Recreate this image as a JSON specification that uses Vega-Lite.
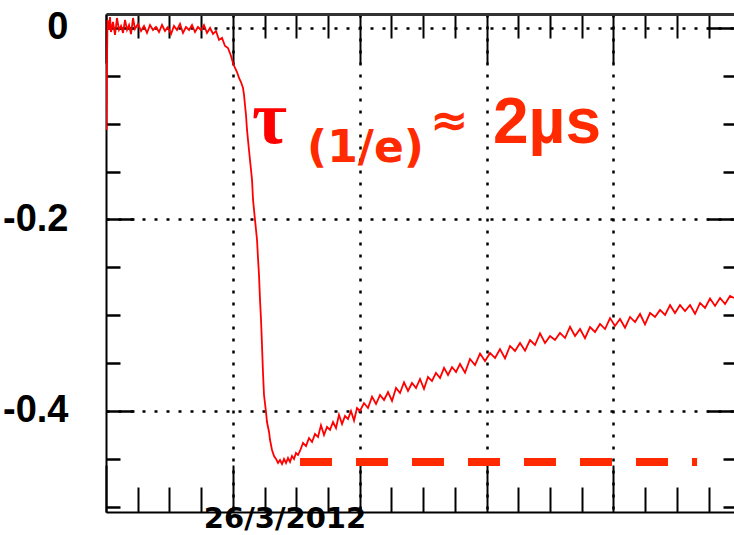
{
  "$schema": "https://vega.github.io/schema/vega-lite/v6.json",
  "width": 628,
  "height": 498,
  "autosize": {"type": "none"},
  "padding": {"left": 106, "top": 14, "right": 0, "bottom": 23},
  "background": "white",
  "config": {
    "view": {"stroke": null},
    "axis": {"domainColor": "#000", "tickColor": "#000", "labelColor": "#000", "title": null}
  },
  "resolve": {"axis": {"x": "independent", "y": "independent"}},
  "layer": [
    {
      "data": {"values": [
        {"t":0.008,"v":-0.1065},{"t":0.016,"v":-0.0334},{"t":0.024,"v":0.0084},{"t":0.047,"v":-0.0021},{"t":0.063,"v":0.0115},{"t":0.079,"v":-0.0042},{"t":0.110,"v":0.0063},{"t":0.142,"v":-0.0073},{"t":0.173,"v":0.0104},{"t":0.205,"v":-0.0021},{"t":0.237,"v":0.0021},{"t":0.268,"v":-0.0052},{"t":0.300,"v":0.0084},{"t":0.331,"v":-0.0021},{"t":0.363,"v":0.0031},{"t":0.394,"v":-0.0063},{"t":0.426,"v":0.0104},{"t":0.457,"v":-0.0010},{"t":0.504,"v":0.0042},{"t":0.552,"v":-0.0031},{"t":0.599,"v":0.0021},{"t":0.646,"v":-0.0052},{"t":0.694,"v":0.0031},{"t":0.741,"v":-0.0021},{"t":0.788,"v":0.0010},{"t":0.836,"v":-0.0042},{"t":0.883,"v":0.0031},{"t":0.930,"v":-0.0031},{"t":0.977,"v":0.0010},{"t":1.025,"v":-0.0063},{"t":1.072,"v":0.0021},{"t":1.119,"v":-0.0021},{"t":1.167,"v":0.0042},{"t":1.214,"v":-0.0052},{"t":1.261,"v":0.0010},{"t":1.309,"v":-0.0021},{"t":1.356,"v":0.0031},{"t":1.403,"v":-0.0042},{"t":1.450,"v":0.0010},{"t":1.498,"v":-0.0021},{"t":1.545,"v":0.0031},{"t":1.592,"v":-0.0052},{"t":1.640,"v":0.0},{"t":1.687,"v":-0.0063},{"t":1.734,"v":-0.0031},{"t":1.782,"v":-0.0125},{"t":1.829,"v":-0.0104},{"t":1.876,"v":-0.0188},{"t":1.923,"v":-0.0209},{"t":1.971,"v":-0.0292},{"t":2.002,"v":-0.0366},{"t":2.034,"v":-0.0418},{"t":2.065,"v":-0.0460},{"t":2.097,"v":-0.0522},{"t":2.128,"v":-0.0564},{"t":2.160,"v":-0.0627},{"t":2.176,"v":-0.0700},{"t":2.191,"v":-0.0804},{"t":2.207,"v":-0.0909},{"t":2.223,"v":-0.1065},{"t":2.254,"v":-0.1274},{"t":2.286,"v":-0.1483},{"t":2.302,"v":-0.1587},{"t":2.318,"v":-0.1796},{"t":2.349,"v":-0.2005},{"t":2.381,"v":-0.2214},{"t":2.396,"v":-0.2402},{"t":2.412,"v":-0.2580},{"t":2.428,"v":-0.2841},{"t":2.444,"v":-0.3050},{"t":2.459,"v":-0.3311},{"t":2.475,"v":-0.3603},{"t":2.491,"v":-0.3833},{"t":2.522,"v":-0.4010},{"t":2.538,"v":-0.4115},{"t":2.570,"v":-0.4219},{"t":2.586,"v":-0.4303},{"t":2.617,"v":-0.4407},{"t":2.649,"v":-0.4470},{"t":2.680,"v":-0.4501},{"t":2.712,"v":-0.4543},{"t":2.743,"v":-0.4512},{"t":2.775,"v":-0.4554},{"t":2.806,"v":-0.4501},{"t":2.838,"v":-0.4543},{"t":2.869,"v":-0.4491},{"t":2.901,"v":-0.4533},{"t":2.932,"v":-0.4470},{"t":2.964,"v":-0.4501},{"t":2.995,"v":-0.4439},{"t":3.027,"v":-0.4460},
        {"t":3.058,"v":-0.4418},{"t":3.106,"v":-0.4334},{"t":3.153,"v":-0.4366},{"t":3.200,"v":-0.4282},{"t":3.248,"v":-0.4324},{"t":3.295,"v":-0.4240},{"t":3.342,"v":-0.4272},{"t":3.389,"v":-0.4150},{"t":3.437,"v":-0.4251},{"t":3.484,"v":-0.4167},{"t":3.531,"v":-0.4198},{"t":3.579,"v":-0.4115},{"t":3.626,"v":-0.4178},{"t":3.673,"v":-0.4040},{"t":3.721,"v":-0.4136},{"t":3.768,"v":-0.4052},{"t":3.815,"v":-0.4084},{"t":3.862,"v":-0.4000},{"t":3.910,"v":-0.4100},{"t":3.957,"v":-0.3969},{"t":4.004,"v":-0.4000},{"t":4.067,"v":-0.3917},{"t":4.130,"v":-0.3969},{"t":4.194,"v":-0.3850},{"t":4.257,"v":-0.3927},{"t":4.320,"v":-0.3833},{"t":4.383,"v":-0.3885},{"t":4.446,"v":-0.3802},{"t":4.509,"v":-0.3895},{"t":4.572,"v":-0.3760},{"t":4.635,"v":-0.3812},{"t":4.698,"v":-0.3700},{"t":4.761,"v":-0.3791},{"t":4.824,"v":-0.3708},{"t":4.887,"v":-0.3760},{"t":4.950,"v":-0.3666},{"t":5.013,"v":-0.3770},{"t":5.076,"v":-0.3645},{"t":5.139,"v":-0.3687},{"t":5.202,"v":-0.3603},{"t":5.266,"v":-0.3655},{"t":5.329,"v":-0.3550},{"t":5.392,"v":-0.3624},{"t":5.455,"v":-0.3541},{"t":5.518,"v":-0.3593},{"t":5.581,"v":-0.3509},{"t":5.660,"v":-0.3600},{"t":5.738,"v":-0.3457},{"t":5.817,"v":-0.3520},{"t":5.896,"v":-0.3400},{"t":5.975,"v":-0.3478},{"t":6.054,"v":-0.3394},{"t":6.133,"v":-0.3447},{"t":6.211,"v":-0.3353},{"t":6.290,"v":-0.3450},{"t":6.369,"v":-0.3321},{"t":6.448,"v":-0.3373},{"t":6.527,"v":-0.3290},{"t":6.606,"v":-0.3370},{"t":6.684,"v":-0.3259},{"t":6.763,"v":-0.3311},{"t":6.842,"v":-0.3190},{"t":6.921,"v":-0.3290},{"t":7.000,"v":-0.3217},{"t":7.078,"v":-0.3259},{"t":7.157,"v":-0.3185},{"t":7.236,"v":-0.3238},{"t":7.315,"v":-0.3120},{"t":7.394,"v":-0.3217},{"t":7.473,"v":-0.3144},{"t":7.551,"v":-0.3240},{"t":7.630,"v":-0.3123},{"t":7.709,"v":-0.3175},{"t":7.788,"v":-0.3091},{"t":7.867,"v":-0.3144},{"t":7.946,"v":-0.3030},{"t":8.024,"v":-0.3112},{"t":8.103,"v":-0.3039},{"t":8.182,"v":-0.3130},{"t":8.261,"v":-0.3018},{"t":8.340,"v":-0.3071},{"t":8.419,"v":-0.2987},{"t":8.497,"v":-0.3095},{"t":8.576,"v":-0.2977},{"t":8.655,"v":-0.3018},{"t":8.734,"v":-0.2945},{"t":8.813,"v":-0.2997},{"t":8.892,"v":-0.2895},{"t":8.970,"v":-0.2977},{"t":9.049,"v":-0.2893},{"t":9.128,"v":-0.2956},{"t":9.207,"v":-0.2893},{"t":9.286,"v":-0.2985},{"t":9.365,"v":-0.2872},{"t":9.443,"v":-0.2924},{"t":9.522,"v":-0.2825},{"t":9.601,"v":-0.2903},{"t":9.680,"v":-0.2820},{"t":9.759,"v":-0.2883},{"t":9.837,"v":-0.2799},{"t":9.900,"v":-0.2820}
      ]},
      "mark": {"type": "line", "color": "#ff0000", "strokeWidth": 1.8, "clip": true},
      "encoding": {
        "x": {"field": "t", "type": "quantitative", "scale": {"domain": [0, 9.9], "nice": false, "zero": false},
          "axis": {"orient": "bottom", "values": [0,0.5,1,1.5,2,2.5,3,3.5,4,4.5,5,5.5,6,6.5,7,7.5,8,8.5,9,9.5],
            "labels": false, "domainWidth": 2, "tickWidth": 2,
            "tickSize": {"condition": {"test": "datum.value % 2 === 0", "value": -47}, "value": -25},
            "grid": true, "gridColor": "#000", "gridWidth": 2.5, "gridDash": [3, 9],
            "gridOpacity": {"condition": {"test": "datum.value % 2 === 0 && datum.value > 0", "value": 1}, "value": 0}}},
        "y": {"field": "v", "type": "quantitative", "scale": {"domain": [-0.5055, 0.0146], "nice": false, "zero": false},
          "axis": {"orient": "left", "values": [-0.5,-0.45,-0.4,-0.35,-0.3,-0.25,-0.2,-0.15,-0.1,-0.05,0],
            "labelExpr": "datum.value === 0 ? '0' : (datum.value === -0.2 ? '-0.2' : (datum.value === -0.4 ? '-0.4' : ''))",
            "labelFont": "Liberation Sans", "labelFontSize": 38, "labelFontWeight": "bold",
            "labelPadding": 66, "labelBaseline": "middle",
            "domainWidth": 2, "tickWidth": 2.5,
            "tickSize": {"condition": {"test": "datum.value === 0 || datum.value === -0.2 || datum.value === -0.4", "value": -28}, "value": -14},
            "grid": true, "gridColor": "#000", "gridWidth": 2.5, "gridDash": [3, 9],
            "gridOpacity": {"condition": {"test": "datum.value === 0 || datum.value === -0.2 || datum.value === -0.4", "value": 1}, "value": 0}}}
      }
    },
    {
      "data": {"values": [{"t": 3.058, "v": -0.4533}, {"t": 9.318, "v": -0.4533}]},
      "mark": {"type": "line", "color": "#ff2a00", "strokeWidth": 8, "strokeDash": [32, 24], "strokeCap": "butt"},
      "encoding": {
        "x": {"field": "t", "type": "quantitative",
          "axis": {"orient": "top", "values": [0,0.5,1,1.5,2,2.5,3,3.5,4,4.5,5,5.5,6,6.5,7,7.5,8,8.5,9,9.5],
            "labels": false, "domainWidth": 3, "domainColor": "#333", "tickWidth": 2,
            "tickSize": {"condition": {"test": "datum.value % 2 === 0", "value": -49}, "value": -24}, "grid": false}},
        "y": {"field": "v", "type": "quantitative",
          "axis": {"orient": "right", "values": [-0.5,-0.45,-0.4,-0.35,-0.3,-0.25,-0.2,-0.15,-0.1,-0.05,0],
            "labels": false, "domain": false, "tickWidth": 2.5,
            "tickSize": {"condition": {"test": "datum.value === 0 || datum.value === -0.2 || datum.value === -0.4", "value": -27}, "value": -11}, "grid": false}}
      }
    },
    {
      "data": {"values": [{"t": 2.300, "v": -0.1201, "label": "τ"}]},
      "mark": {"type": "text", "align": "left", "baseline": "alphabetic", "font": "Liberation Serif", "fontSize": 76, "fontWeight": "bold", "color": "#ff0000"},
      "encoding": {"x": {"field": "t", "type": "quantitative", "axis": null}, "y": {"field": "v", "type": "quantitative", "axis": null}, "text": {"field": "label"}}
    },
    {
      "data": {"values": [{"t": 3.170, "v": -0.1400, "label": "(1/e)"}]},
      "mark": {"type": "text", "align": "left", "baseline": "alphabetic", "font": "DejaVu Sans", "fontSize": 44, "fontWeight": "bold", "color": "#ff2a00"},
      "encoding": {"x": {"field": "t", "type": "quantitative", "axis": null}, "y": {"field": "v", "type": "quantitative", "axis": null}, "text": {"field": "label"}}
    },
    {
      "data": {"values": [{"t": 5.108, "v": -0.1128, "label": "≈"}]},
      "mark": {"type": "text", "align": "left", "baseline": "alphabetic", "font": "DejaVu Sans", "fontSize": 46, "fontWeight": "bold", "color": "#ff2a00"},
      "encoding": {"x": {"field": "t", "type": "quantitative", "axis": null}, "y": {"field": "v", "type": "quantitative", "axis": null}, "text": {"field": "label"}}
    },
    {
      "data": {"values": [{"t": 6.101, "v": -0.1201, "label": "2µs"}]},
      "mark": {"type": "text", "align": "left", "baseline": "alphabetic", "font": "Liberation Sans", "fontSize": 64, "fontWeight": "bold", "color": "#ff2a00"},
      "encoding": {"x": {"field": "t", "type": "quantitative", "axis": null}, "y": {"field": "v", "type": "quantitative", "axis": null}, "text": {"field": "label"}}
    },
    {
      "data": {"values": [{"t": 2.822, "v": -0.5222, "label": "26/3/2012"}]},
      "mark": {"type": "text", "align": "center", "baseline": "alphabetic", "font": "DejaVu Sans", "fontSize": 29, "fontWeight": "bold", "color": "#000000"},
      "encoding": {"x": {"field": "t", "type": "quantitative", "axis": null}, "y": {"field": "v", "type": "quantitative", "axis": null}, "text": {"field": "label"}}
    }
  ]
}
